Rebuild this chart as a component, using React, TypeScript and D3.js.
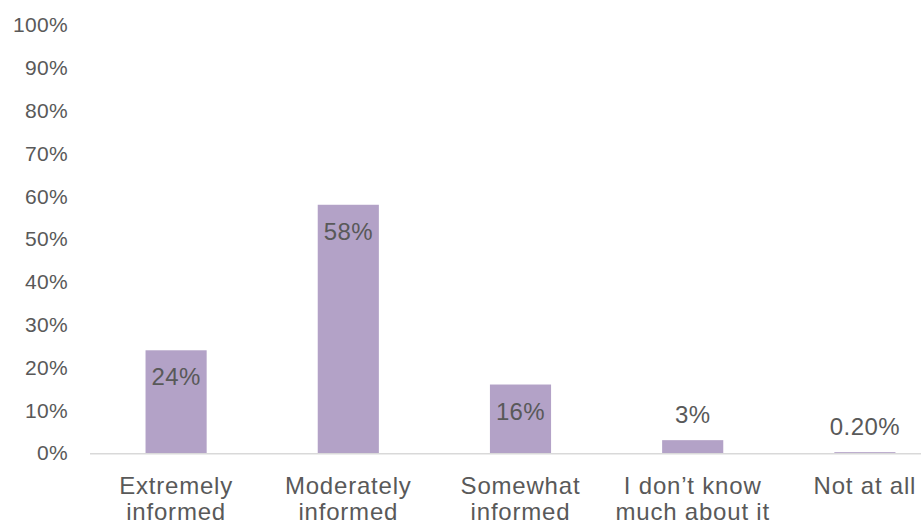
import React from "react";
import * as d3 from "d3";

const categories: string[][] = [
  ["Extremely", "informed"],
  ["Moderately", "informed"],
  ["Somewhat", "informed"],
  ["I don\u2019t know", "much about it"],
  ["Not at all"],
];
const values: number[] = [24, 58, 16, 3, 0.2];
const valueLabels: string[] = ["24%", "58%", "16%", "3%", "0.20%"];
const yTicks: number[] = [0, 10, 20, 30, 40, 50, 60, 70, 80, 90, 100];

const W = 921;
const H = 525;
const TEXT = "#595959";
const BAR = "#B3A2C7";
const FONT = "'Liberation Sans', Arial, sans-serif";

export default function App() {
  const keys = categories.map((_, i) => String(i));
  const x = d3.scaleBand<string>().domain(keys).range([90, 951]).paddingInner(0.645).paddingOuter(0.3225);
  const y = d3.scaleLinear().domain([0, 100]).range([453, 25]);

  return (
    <svg width={W} height={H} style={{ position: "absolute", left: 0, top: 0, background: "#fff" }} fontFamily={FONT}>
      {yTicks.map((t) => (
        <text key={t} x={68} y={y(t)} dy="0.35em" textAnchor="end" fontSize={21} letterSpacing={0.3} fill={TEXT}>
          {t}%
        </text>
      ))}
      {values.map((v, i) => {
        const bx = x(keys[i])!;
        const bw = x.bandwidth();
        const top = y(v);
        const h = y(0) - top;
        const inside = h > 40;
        const ly = inside ? top + 35 : top - 17;
        return (
          <g key={i}>
            <rect x={bx} y={top} width={bw} height={h} fill={BAR} />
            <text x={bx + bw / 2} y={ly} textAnchor="middle" fontSize={24} letterSpacing={0.4} fill={TEXT}>
              {valueLabels[i]}
            </text>
          </g>
        );
      })}
      <line x1={90} x2={W} y1={y(0) + 0.75} y2={y(0) + 0.75} stroke="#D9D9D9" strokeWidth={1.5} />
      {categories.map((lines, i) => {
        const cx = x(keys[i])! + x.bandwidth() / 2;
        return (
          <text key={i} x={cx} textAnchor="middle" fontSize={24} letterSpacing={0.8} fill={TEXT}>
            {lines.map((l, j) => (
              <tspan key={j} x={cx} y={494 + j * 26}>
                {l}
              </tspan>
            ))}
          </text>
        );
      })}
    </svg>
  );
}
